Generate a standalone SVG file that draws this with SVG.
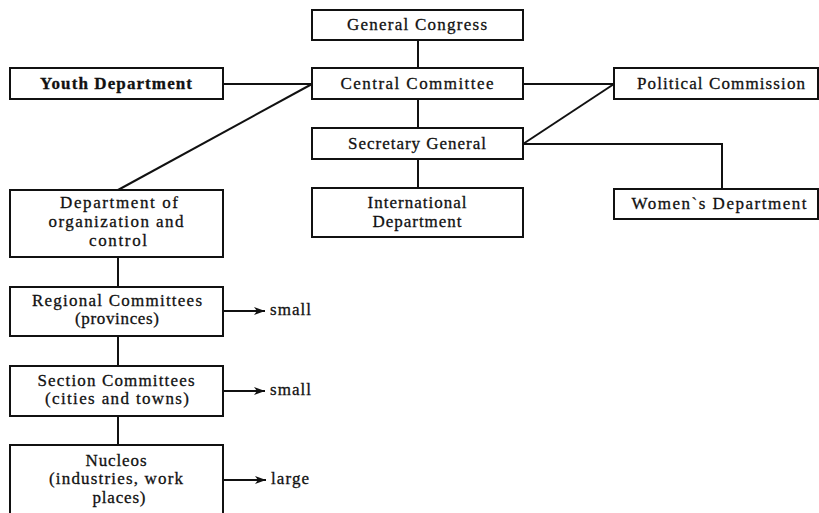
<svg xmlns="http://www.w3.org/2000/svg" width="819" height="513" viewBox="0 0 819 513">
<style>
.box{fill:#fff;stroke:#111;stroke-width:2}
.ln{fill:none;stroke:#111;stroke-width:2}
text{font-family:"Liberation Serif","Times New Roman",serif;font-size:17px;fill:#111;stroke:#111;stroke-width:0.3;text-anchor:middle}
.lbl{text-anchor:start}
</style>
<defs>
<marker id="ah" viewBox="0 0 11 8" refX="11" refY="4" markerWidth="11" markerHeight="8" markerUnits="userSpaceOnUse" orient="auto">
<path d="M0,0 L11,4 L0,8 L3,4 Z" fill="#111"/>
</marker>
</defs>
<rect width="819" height="513" fill="#fff"/>
<g id="connectors">
<line class="ln" x1="418" y1="40" x2="418" y2="68"/>
<line class="ln" x1="418" y1="99" x2="418" y2="128"/>
<line class="ln" x1="418" y1="159" x2="418" y2="188"/>
<line class="ln" x1="223" y1="84" x2="312" y2="84"/>
<line class="ln" x1="118" y1="190" x2="312" y2="84"/>
<line class="ln" x1="523" y1="84" x2="614" y2="84"/>
<line class="ln" x1="523" y1="144" x2="614" y2="84"/>
<polyline class="ln" points="523,144 722,144 722,189"/>
<line class="ln" x1="118" y1="257" x2="118" y2="287"/>
<line class="ln" x1="118" y1="336" x2="118" y2="366"/>
<line class="ln" x1="118" y1="416" x2="118" y2="445"/>
<line class="ln" x1="223" y1="311" x2="265" y2="311" marker-end="url(#ah)"/>
<line class="ln" x1="223" y1="391" x2="265" y2="391" marker-end="url(#ah)"/>
<line class="ln" x1="223" y1="480" x2="266" y2="480" marker-end="url(#ah)"/>
</g>
<g id="general-congress"><rect class="box" x="312" y="10" width="211" height="30"/><text x="417" y="30" textLength="140" lengthAdjust="spacing">General Congress</text></g>
<g id="central-committee"><rect class="box" x="312" y="68" width="211" height="31"/><text x="417" y="89" textLength="153" lengthAdjust="spacing">Central Committee</text></g>
<g id="secretary-general"><rect class="box" x="312" y="128" width="211" height="31"/><text x="417" y="149" textLength="138" lengthAdjust="spacing">Secretary General</text></g>
<g id="international-department"><rect class="box" x="312" y="188" width="211" height="49"/><text x="417" y="208" textLength="99" lengthAdjust="spacing">International</text><text x="417" y="227" textLength="89" lengthAdjust="spacing">Department</text></g>
<g id="youth-department"><rect class="box" x="10" y="68" width="213" height="31"/><text x="116" y="89" font-weight="bold" stroke-width="0" textLength="152" lengthAdjust="spacing">Youth Department</text></g>
<g id="political-commission"><rect class="box" x="614" y="68" width="204" height="31"/><text x="721" y="89" textLength="168" lengthAdjust="spacing">Political Commission</text></g>
<g id="womens-department"><rect class="box" x="614" y="189" width="204" height="30"/><text x="719" y="209" textLength="175" lengthAdjust="spacing">Women`s Department</text></g>
<g id="dept-organization"><rect class="box" x="10" y="190" width="213" height="67"/><text x="119" y="208" textLength="118" lengthAdjust="spacing">Department of</text><text x="116" y="227" textLength="135" lengthAdjust="spacing">organization and</text><text x="118" y="246" textLength="58" lengthAdjust="spacing">control</text></g>
<g id="regional-committees"><rect class="box" x="10" y="287" width="213" height="49"/><text x="117" y="306" textLength="170" lengthAdjust="spacing">Regional Committees</text><text x="117" y="324" textLength="84" lengthAdjust="spacing">(provinces)</text></g>
<g id="section-committees"><rect class="box" x="10" y="366" width="213" height="50"/><text x="116" y="386" textLength="157" lengthAdjust="spacing">Section Committees</text><text x="117" y="404" textLength="144" lengthAdjust="spacing">(cities and towns)</text></g>
<g id="nucleos"><rect class="box" x="10" y="445" width="213" height="71"/><text x="116" y="466" textLength="61" lengthAdjust="spacing">Nucleos</text><text x="116" y="484" textLength="134" lengthAdjust="spacing">(industries, work</text><text x="119" y="503" textLength="53" lengthAdjust="spacing">places)</text></g>
<g id="labels">
<text class="lbl" x="270" y="315" textLength="41" lengthAdjust="spacing">small</text>
<text class="lbl" x="270" y="395" textLength="41" lengthAdjust="spacing">small</text>
<text class="lbl" x="271" y="484" textLength="38" lengthAdjust="spacing">large</text>
</g>
</svg>
